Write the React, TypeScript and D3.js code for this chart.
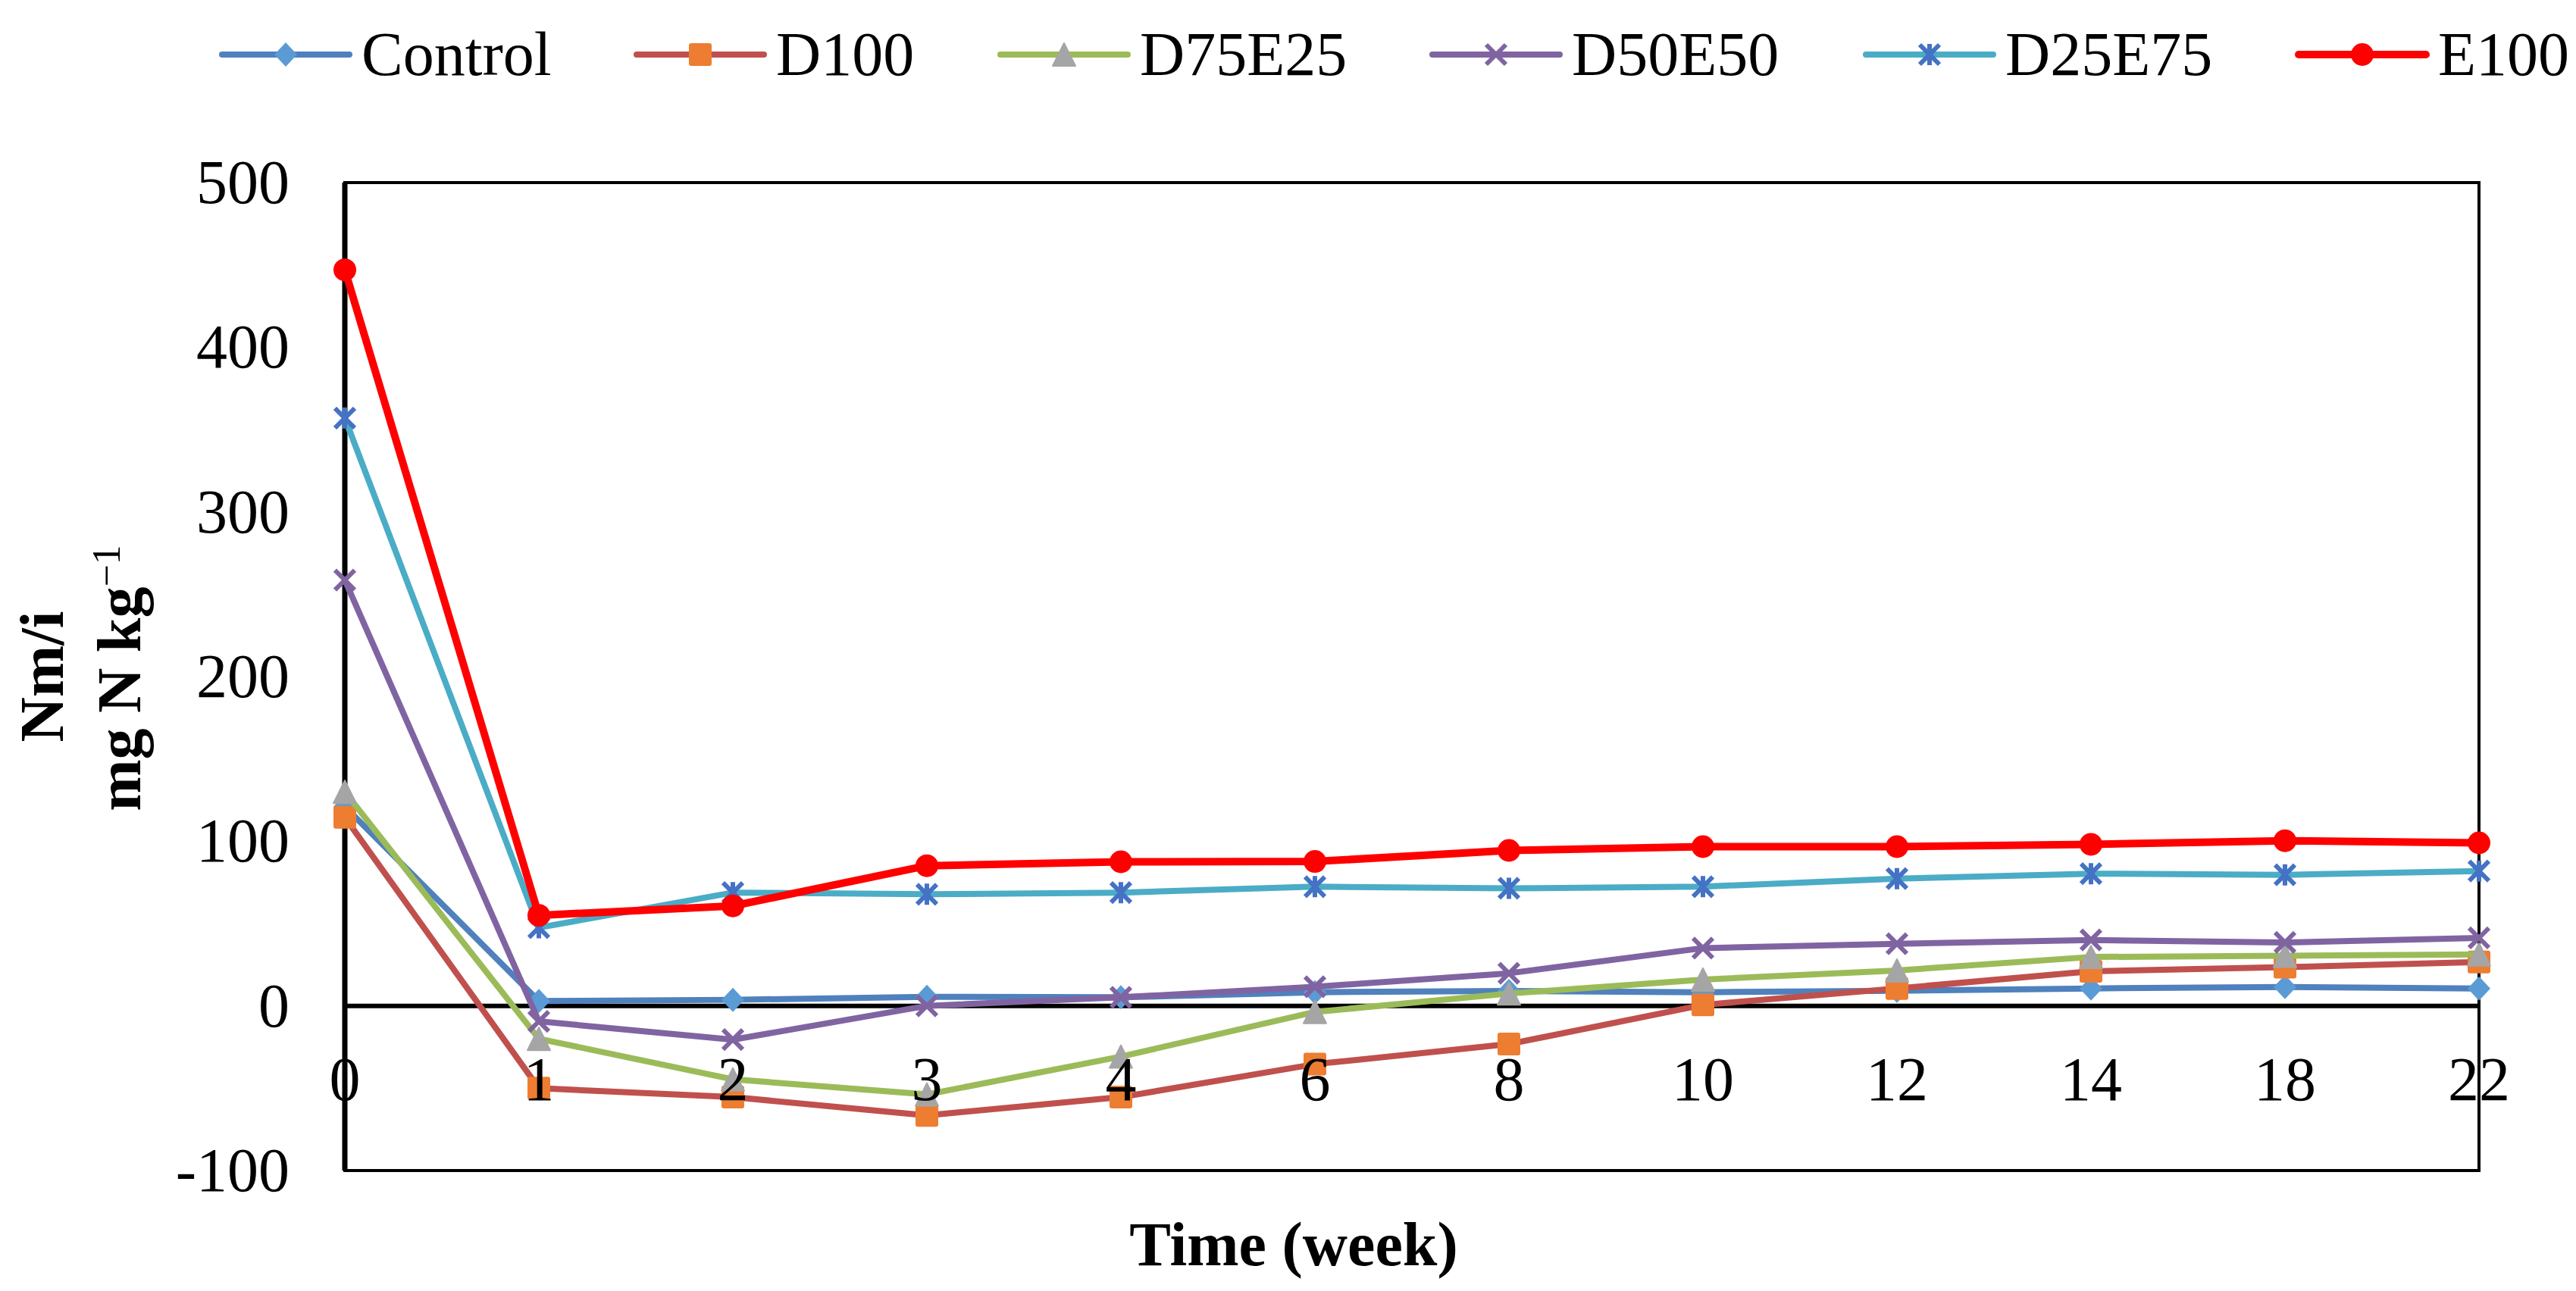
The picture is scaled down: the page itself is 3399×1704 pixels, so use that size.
import React from 'react';
import * as d3 from 'd3';

// weeks (category axis)
const weeks = ['0', '1', '2', '3', '4', '6', '8', '10', '12', '14', '18', '22'];

const control = [121, 2.9, 3.7, 5.5, 5.2, 8.3, 9, 8.3, 9.2, 10.6, 11.5, 10.6];
const d100 = [114.5, -50, -55.4, -66.5, -55.4, -35.4, -23.2, 0.6, 10.6, 21, 23.5, 26.7];
const d75e25 = [130, -20, -44.6, -53.8, -30.8, -3.7, 7.5, 16, 21.5, 29.7, 30.5, 31.3];
const d50e50 = [258.6, -9.4, -20.5, 0, 5.2, 11.6, 19.8, 35.1, 37.7, 40, 38.5, 41.3];
const d25e75 = [357, 47.5, 68.8, 67.8, 68.8, 72.4, 71.4, 72.4, 77.3, 80.3, 79.6, 81.9];
const e100 = [447, 55, 60.7, 85.1, 87.5, 87.7, 94.4, 96.7, 96.7, 98.1, 100.3, 99];

const yTicks = [-100, 0, 100, 200, 300, 400, 500];

type Marker = 'diamond' | 'square' | 'triangle' | 'x' | 'star' | 'circle';

const series: { name: string; values: number[]; line: string; fill: string; marker: Marker; width: number }[] = [
  { name: 'Control', values: control, line: '#4F81BD', fill: '#5B9BD5', marker: 'diamond', width: 8 },
  { name: 'D100', values: d100, line: '#C0504D', fill: '#ED7D31', marker: 'square', width: 8 },
  { name: 'D75E25', values: d75e25, line: '#9BBB59', fill: '#A5A5A5', marker: 'triangle', width: 8 },
  { name: 'D50E50', values: d50e50, line: '#8064A2', fill: '#8064A2', marker: 'x', width: 8 },
  { name: 'D25E75', values: d25e75, line: '#4BACC6', fill: '#4472C4', marker: 'star', width: 8 },
  { name: 'E100', values: e100, line: '#FF0000', fill: '#FF0000', marker: 'circle', width: 10 },
];

// legend item left edges
const legendX = [293, 840, 1320, 1890, 2462, 3033];

const W = 3399;
const H = 1704;
const plot = { left: 455, right: 3271, top: 241, bottom: 1545 };
const font = '"Liberation Serif", "Times New Roman", serif';
const fs = 82;

const x = d3.scalePoint<string>().domain(weeks).range([plot.left, plot.right]).padding(0);
const y = d3.scaleLinear().domain([-100, 500]).range([plot.bottom, plot.top]);

const MarkerShape: React.FC<{ kind: Marker; cx: number; cy: number; color: string }> = ({ kind, cx, cy, color }) => {
  const r = 15;
  switch (kind) {
    case 'diamond':
      return <path d={`M${cx},${cy - r - 1}L${cx + r},${cy}L${cx},${cy + r + 1}L${cx - r},${cy}Z`} fill={color} />;
    case 'square':
      return <rect x={cx - r} y={cy - r} width={2 * r} height={2 * r} rx={3} fill={color} />;
    case 'triangle':
      return <path d={`M${cx},${cy - r}L${cx + r},${cy + r}L${cx - r},${cy + r}Z`} fill={color} strokeLinejoin="round" stroke={color} strokeWidth={2} />;
    case 'x':
      return (
        <path d={`M${cx - r + 2},${cy - r + 2}L${cx + r - 2},${cy + r - 2}M${cx + r - 2},${cy - r + 2}L${cx - r + 2},${cy + r - 2}`}
          stroke={color} strokeWidth={6} fill="none" />
      );
    case 'star':
      return (
        <path d={`M${cx - r + 2},${cy - r + 2}L${cx + r - 2},${cy + r - 2}M${cx + r - 2},${cy - r + 2}L${cx - r + 2},${cy + r - 2}M${cx},${cy - r + 1}L${cx},${cy + r - 1}`}
          stroke={color} strokeWidth={6} fill="none" />
      );
    default:
      return <circle cx={cx} cy={cy} r={r} fill={color} />;
  }
};

const App: React.FC = () => {
  const line = d3
    .line<number>()
    .x((_, i) => x(weeks[i]) as number)
    .y((d) => y(d));

  return (
    <svg width={W} height={H} style={{ position: 'absolute', left: 0, top: 0, background: '#fff' }} fontFamily={font}>
      <rect x={0} y={0} width={W} height={H} fill="#fff" />

      {/* legend */}
      {series.map((s, i) => (
        <g key={s.name}>
          <line x1={legendX[i]} x2={legendX[i] + 168} y1={72} y2={72} stroke={s.line} strokeWidth={s.width} strokeLinecap="round" />
          <MarkerShape kind={s.marker} cx={legendX[i] + 84} cy={72} color={s.fill} />
          <text x={legendX[i] + 184} y={99} fontSize={fs}>{s.name}</text>
        </g>
      ))}

      {/* plot frame */}
      <rect x={plot.left} y={plot.top} width={plot.right - plot.left} height={plot.bottom - plot.top} fill="none" stroke="#000" strokeWidth={4} />
      <line x1={plot.left} x2={plot.left} y1={plot.top} y2={plot.bottom} stroke="#000" strokeWidth={7} />
      <line x1={plot.left} x2={plot.right} y1={y(0)} y2={y(0)} stroke="#000" strokeWidth={6} />

      {/* series */}
      {series.map((s) => (
        <g key={s.name}>
          <path d={line(s.values) ?? ''} fill="none" stroke={s.line} strokeWidth={s.width} strokeLinejoin="round" />
          {s.values.map((v, i) => (
            <MarkerShape key={i} kind={s.marker} cx={x(weeks[i]) as number} cy={y(v)} color={s.fill} />
          ))}
        </g>
      ))}

      {/* y tick labels */}
      {yTicks.map((t) => (
        <text key={t} x={382} y={y(t)} dy="0.33em" textAnchor="end" fontSize={fs}>{t}</text>
      ))}

      {/* x tick labels, next to the zero line */}
      {weeks.map((w) => (
        <text key={w} x={x(w) as number} y={y(0) + 124} textAnchor="middle" fontSize={fs}>{w}</text>
      ))}

      {/* axis titles */}
      <text transform="translate(83,893) rotate(-90)" textAnchor="middle" fontSize={fs} fontWeight="bold">Nm/i</text>
      <text transform="translate(185,895) rotate(-90)" textAnchor="middle" fontSize={fs} fontWeight="bold">
        mg N kg<tspan fontSize={52} fontWeight="normal" dy={-27}>−1</tspan>
      </text>
      <text x={1707} y={1670} textAnchor="middle" fontSize={fs} fontWeight="bold">Time (week)</text>
    </svg>
  );
};

export default App;
